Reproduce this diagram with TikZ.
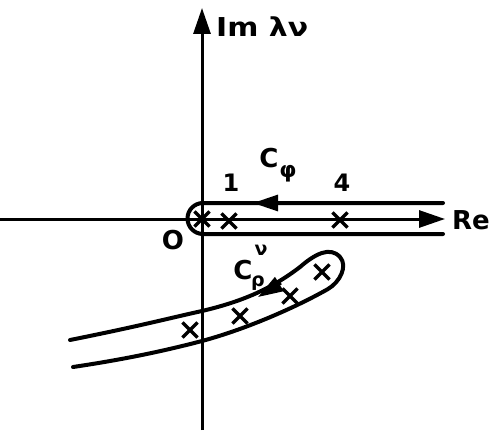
\documentclass[tikz,border=0pt]{standalone}
\usepackage{fontspec}
\setmainfont{DejaVu Sans}
\usetikzlibrary{arrows.meta,shapes.misc}
\begin{document}
\begin{tikzpicture}[x=1pt,y=1pt]
\tikzset{
  axis/.style={line width=3pt},
  contour/.style={line width=4pt, line cap=round},
  pole/.style={draw, cross out, minimum size=12pt, inner sep=0pt, line width=3.2pt},
  lbl/.style={font=\bfseries\fontsize{26}{26}\selectfont, inner sep=0pt},
  num/.style={font=\bfseries\fontsize{24}{24}\selectfont, inner sep=0pt},
  small/.style={font=\bfseries\fontsize{19}{19}\selectfont, inner sep=0pt},
  bigtip/.style={-{Triangle[length=26pt,width=17pt]}},
  midtip/.style={-{Triangle[length=25pt,width=16pt]}}
}
\useasboundingbox (0,0) rectangle (492,432);
\fill[white] (0,0) rectangle (492,432);
% axes
\coordinate (ybot) at (202,2);
\coordinate (ytop) at (202,424);
\coordinate (xl) at (0,213);
\coordinate (xr) at (445,213);
\draw[axis, bigtip] (ybot) -- (ytop);
\draw[axis, bigtip] (xl) -- (xr);
% C_phi contour
\coordinate (cu) at (443,229);
\coordinate (cl) at (443,198);
\draw[contour] (cu) -- (203,229) arc[start angle=90,end angle=270,radius=15.5] -- (cl);
\coordinate (aphis) at (281,229);
\coordinate (aphie) at (253,229);
\draw[line width=3pt, midtip] (aphis) -- (aphie);
% C_rho hairpin
\coordinate (hu) at (70,92);
\coordinate (hl) at (73,65);
\draw[contour] (hu) .. controls (140,106) and (170,114) .. (202,121)
  .. controls (240,130) and (270,142) .. (300,165)
  .. controls (315,178) and (330,186) .. (340,175)
  .. controls (348,166) and (340,150) .. (328,143)
  .. controls (300,127) and (250,104) .. (202,91)
  .. controls (160,80) and (120,72) .. (hl);
\coordinate (arhos) at (281,149);
\coordinate (arhoe) at (258,135);
\draw[line width=3pt, midtip] (arhos) -- (arhoe);
% poles
\node[pole] (p0) at (202,213) {};
\node[pole] (p1) at (229,211) {};
\node[pole] (p4) at (340,212) {};
\node[pole] (q1) at (190,102) {};
\node[pole] (q2) at (240,116) {};
\node[pole] (q3) at (290,136) {};
\node[pole] (q4) at (322,160) {};
% labels
\node[lbl, anchor=west] (im) at (216,405) {\scalebox{1.15}[1]{Im λν}};
\node[lbl] (re) at (471,212) {Re};
\node[num] (one) at (231,249) {1};
\node[num] (four) at (342,249) {4};
\node[lbl] (o) at (173,192) {O};
\node[lbl] (cphi) at (269,274) {C};
\node[small, font=\bfseries\fontsize{22}{22}\selectfont] (phi) at (288,258) {φ};
\node[lbl] (crho) at (243,162) {C};
\node[small] (nu) at (261,182) {ν};
\node[small] (rho) at (258,149) {ρ};
\end{tikzpicture}
\end{document}
